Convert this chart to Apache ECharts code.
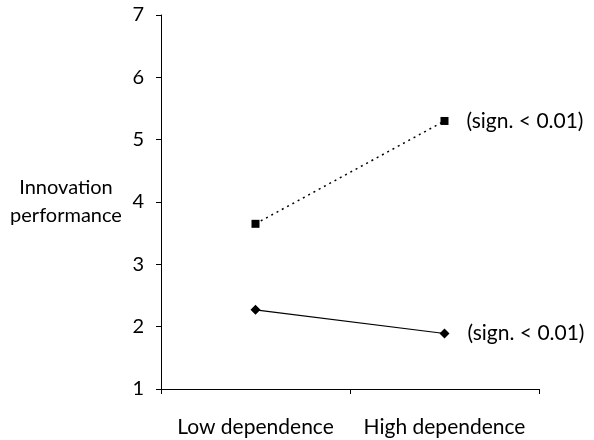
<!DOCTYPE html>
<html><head><meta charset="utf-8">
<script src="https://cdn.jsdelivr.net/npm/echarts@6/dist/echarts.min.js"></script>
<style>html,body{margin:0;padding:0;background:#fff}#c{width:594px;height:440px}</style>
</head><body><div id="c"></div>
<script>
const categories = ['Low dependence', 'High dependence'];
const dottedSeries = [3.65, 5.3];
const solidSeries = [2.27, 1.89];
const sigLabels = ['(sign. < 0.01)', '(sign. < 0.01)'];
const yTicks = [1, 2, 3, 4, 5, 6, 7];
const yName = 'Innovation\nperformance';

const FONT = 'Lato';
const FS = 20;
const chart = echarts.init(document.getElementById('c'));
function withLabel(values, text) {
  return values.map((v, i) => i === values.length - 1 ? {
    value: v,
    label: { show: true, position: 'right', distance: 18, formatter: text, color: '#000', fontSize: 21, fontFamily: FONT }
  } : v);
}
chart.setOption({
  animation: false,
  grid: { left: 161, right: 55, top: 15, bottom: 51 },
  xAxis: {
    type: 'category', data: categories, boundaryGap: true,
    axisLine: { lineStyle: { color: '#000', width: 1 } },
    axisTick: { show: true, length: 5, inside: false, lineStyle: { color: '#000' } },
    axisLabel: { color: '#000', fontSize: 21, fontFamily: FONT, margin: 28, interval: 0, hideOverlap: false }
  },
  yAxis: {
    type: 'value', min: yTicks[0], max: yTicks[yTicks.length - 1], interval: 1,
    name: yName, nameLocation: 'middle', nameRotate: 0, nameGap: 95,
    nameTextStyle: { color: '#000', fontSize: FS, fontFamily: FONT, align: 'center', lineHeight: 28 },
    axisLine: { show: true, lineStyle: { color: '#000', width: 1 } },
    axisTick: { show: true, length: 5, lineStyle: { color: '#000' } },
    axisLabel: { color: '#000', fontSize: FS, fontFamily: FONT, margin: 17 },
    splitLine: { show: false }
  },
  series: [
    {
      type: 'line', data: withLabel(dottedSeries, sigLabels[0]),
      symbol: 'rect', symbolSize: 8,
      itemStyle: { color: '#000' },
      lineStyle: { color: '#000', width: 1.5, type: [2, 4] }
    },
    {
      type: 'line', data: withLabel(solidSeries, sigLabels[1]),
      symbol: 'diamond', symbolSize: [10, 10],
      itemStyle: { color: '#000' },
      lineStyle: { color: '#000', width: 1.2, type: 'solid' }
    }
  ]
});
</script></body></html>
